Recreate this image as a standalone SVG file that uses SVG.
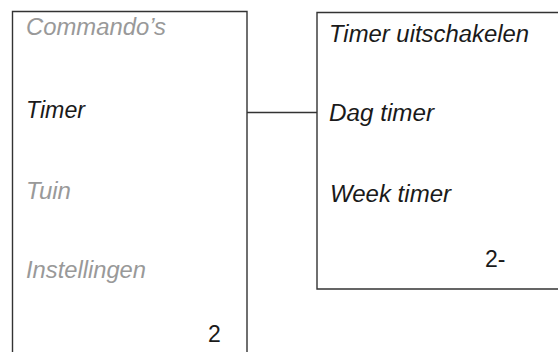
<svg xmlns="http://www.w3.org/2000/svg" width="558" height="352" viewBox="0 0 558 352">
<style>
.box{fill:#fff;stroke:#333;stroke-width:1.4}
.t{font-family:"Liberation Sans",Arial,sans-serif;font-size:23px;font-style:italic;fill:#1a1a1a}
.g{fill:#999}
.n{font-family:"Liberation Sans",Arial,sans-serif;font-size:23px;fill:#1a1a1a}
.c{fill:none;stroke:#333;stroke-width:1.4}
</style>
<rect width="558" height="352" fill="#fff"/>
<g id="connectors">
<line class="c" x1="247" y1="112.5" x2="317" y2="112.5"/>
</g>
<g id="menu-left">
<path class="box" d="M12.5 353 V11.5 H247 V353"/>
<text class="t g" x="26" y="35" textLength="140" lengthAdjust="spacingAndGlyphs">Commando’s</text>
<text class="t" x="26" y="118" textLength="59" lengthAdjust="spacingAndGlyphs">Timer</text>
<text class="t g" x="26" y="199" textLength="45" lengthAdjust="spacingAndGlyphs">Tuin</text>
<text class="t g" x="26" y="278" textLength="120" lengthAdjust="spacingAndGlyphs">Instellingen</text>
<text class="n" x="208" y="342">2</text>
</g>
<g id="menu-right">
<path class="box" d="M560 289 H317 V12.5 H560"/>
<text class="t" x="329" y="42" textLength="200" lengthAdjust="spacingAndGlyphs">Timer uitschakelen</text>
<text class="t" x="329" y="121" textLength="105" lengthAdjust="spacingAndGlyphs">Dag timer</text>
<text class="t" x="330" y="202" textLength="121" lengthAdjust="spacingAndGlyphs">Week timer</text>
<text class="n" x="485" y="267">2-</text>
</g>
</svg>
